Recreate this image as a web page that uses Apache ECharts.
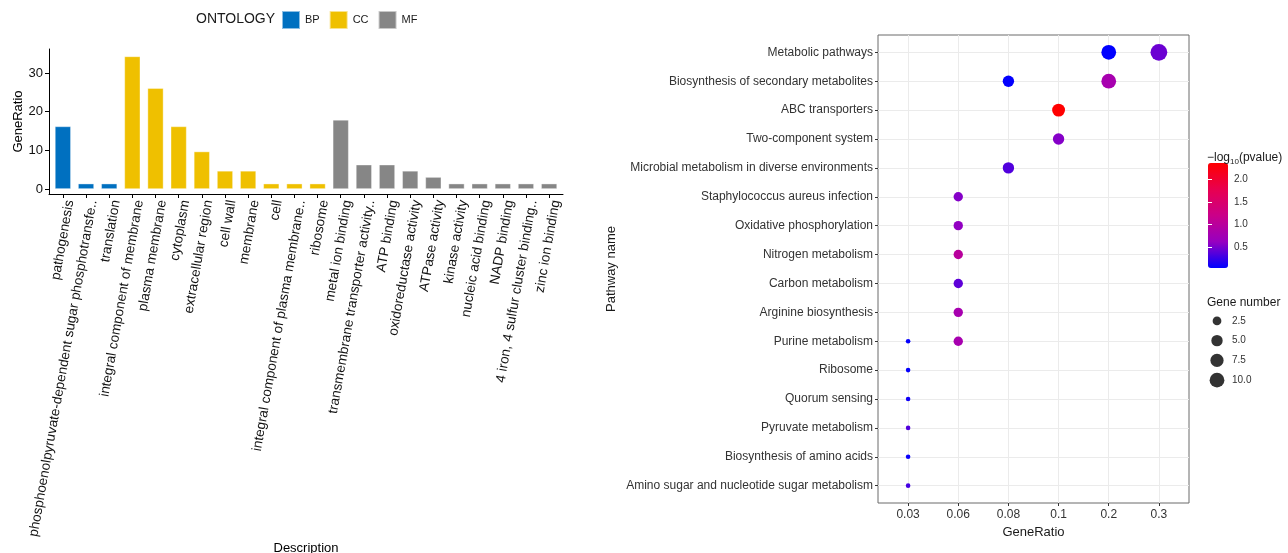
<!DOCTYPE html>
<html>
<head>
<meta charset="utf-8">
<script src="https://cdn.jsdelivr.net/npm/echarts@6/dist/echarts.min.js"></script>
<style>
  html, body { margin: 0; padding: 0; background: #ffffff; }
  #chart { width: 1288px; height: 553px; }
</style>
</head>
<body>
<div id="chart"></div>
<script>
// ---- GO enrichment (bar chart) ----
const goTerms = [
  'pathogenesis',
  'phosphoenolpyruvate-dependent sugar phosphotransfe..',
  'translation',
  'integral component of membrane',
  'plasma membrane',
  'cytoplasm',
  'extracellular region',
  'cell wall',
  'membrane',
  'cell',
  'integral component of plasma membrane..',
  'ribosome',
  'metal ion binding',
  'transmembrane transporter activity..',
  'ATP binding',
  'oxidoreductase activity',
  'ATPase activity',
  'kinase activity',
  'nucleic acid binding',
  'NADP binding',
  '4 iron, 4 sulfur cluster binding..',
  'zinc ion binding'
];
const goOntology = [
  'BP', 'BP', 'BP',
  'CC', 'CC', 'CC', 'CC', 'CC', 'CC', 'CC', 'CC', 'CC',
  'MF', 'MF', 'MF', 'MF', 'MF', 'MF', 'MF', 'MF', 'MF', 'MF'
];
const goRatio = [
  16.2, 1.4, 1.4,
  34.3, 26.1, 16.2, 9.7, 4.7, 4.7, 1.4, 1.4, 1.4,
  17.9, 6.3, 6.3, 4.7, 3.1, 1.4, 1.4, 1.4, 1.4, 1.4
];
const ontologies = ['BP', 'CC', 'MF'];
const goTickValues = [0, 10, 20, 30];

// ---- KEGG enrichment (dot plot) ----
const pathways = [
  'Metabolic pathways',
  'Biosynthesis of secondary metabolites',
  'ABC transporters',
  'Two-component system',
  'Microbial metabolism in diverse environments',
  'Staphylococcus aureus infection',
  'Oxidative phosphorylation',
  'Nitrogen metabolism',
  'Carbon metabolism',
  'Arginine biosynthesis',
  'Purine metabolism',
  'Ribosome',
  'Quorum sensing',
  'Pyruvate metabolism',
  'Biosynthesis of amino acids',
  'Amino sugar and nucleotide sugar metabolism'
];
const ratioLevels = ['0.03', '0.06', '0.08', '0.1', '0.2', '0.3'];

const dotPathway = [
  'Metabolic pathways', 'Metabolic pathways',
  'Biosynthesis of secondary metabolites', 'Biosynthesis of secondary metabolites',
  'ABC transporters',
  'Two-component system',
  'Microbial metabolism in diverse environments',
  'Staphylococcus aureus infection',
  'Oxidative phosphorylation',
  'Nitrogen metabolism',
  'Carbon metabolism',
  'Arginine biosynthesis',
  'Purine metabolism', 'Purine metabolism',
  'Ribosome',
  'Quorum sensing',
  'Pyruvate metabolism',
  'Biosynthesis of amino acids',
  'Amino sugar and nucleotide sugar metabolism'
];
const dotRatio = [
  '0.2', '0.3',
  '0.08', '0.2',
  '0.1',
  '0.1',
  '0.08',
  '0.06',
  '0.06',
  '0.06',
  '0.06',
  '0.06',
  '0.03', '0.06',
  '0.03',
  '0.03',
  '0.03',
  '0.03',
  '0.03'
];
const dotGeneNumber = [10, 14, 5, 10, 7, 5, 5, 3, 3, 3, 3, 3, 1, 3, 1, 1, 1, 1, 1];
const dotLogP = [0.04, 0.45, 0.05, 0.8, 2.36, 0.55, 0.35, 0.55, 0.6, 1.0, 0.4, 0.8, 0.06, 0.8, 0.06, 0.1, 0.35, 0.08, 0.3];

const logPLimits = [0.04, 2.36];
const colorBreaks = [0.5, 1.0, 1.5, 2.0];
const sizeBreaks = [2.5, 5.0, 7.5, 10.0];

// ---- styling ----
const FONT = '"Liberation Sans", Arial, Helvetica, sans-serif';
const ontologyColors = { BP: '#0070C0', CC: '#EFC000', MF: '#868686' };
// blue -> red gradient, sampled in Lab space
const gradientStops = ['#0000FF', '#9700C0', '#CA0089', '#E8004F', '#FF0000'];

// point diameter from gene number (area scale)
function dotSize(n) {
  return 4.6 + 10.7 * Math.sqrt(Math.max(0, n - 1) / 10);
}

const goIdx = goTerms.map((_, i) => i);
const pathIdx = pathways.map((_, i) => i);
const ratioIdx = ratioLevels.map((_, i) => i);

// one bar series per ontology, all sharing the same slot on the axis
const barSeries = ontologies.map(ont => ({
  type: 'bar',
  name: ont,
  xAxisIndex: 0,
  yAxisIndex: 0,
  barWidth: 16,
  barGap: '-100%',
  itemStyle: { color: ontologyColors[ont], borderColor: 'rgba(255,255,255,0.55)', borderWidth: 0.7 },
  data: goTerms.map((t, i) => goOntology[i] === ont ? [i, goRatio[i]] : null).filter(d => d !== null)
}));

const dotData = dotPathway.map((p, i) => [
  ratioLevels.indexOf(dotRatio[i]),
  pathways.indexOf(p),
  dotGeneNumber[i],
  dotLogP[i]
]);

const chart = echarts.init(document.getElementById('chart'), null, { renderer: 'canvas' });

const option = {
  animation: false,
  backgroundColor: '#ffffff',
  textStyle: { fontFamily: FONT },
  title: [
    { text: 'ONTOLOGY', left: 196, top: 12, padding: 0,
      textStyle: { fontSize: 14, fontWeight: 'normal', color: '#1a1a1a', fontFamily: FONT } },
    { text: '\u2212log{sub|10}(pvalue)', left: 1207, top: 150, padding: 0,
      textStyle: { fontSize: 12, fontWeight: 'normal', color: '#1a1a1a', fontFamily: FONT, lineHeight: 16,
        rich: { sub: { fontSize: 8, lineHeight: 16, verticalAlign: 'bottom', fontFamily: FONT, color: '#1a1a1a' } } } },
    { text: 'Gene number', left: 1207, top: 297, padding: 0,
      textStyle: { fontSize: 12, fontWeight: 'normal', color: '#1a1a1a', fontFamily: FONT } }
  ],
  legend: {
    data: ontologies,
    left: 281,
    top: 10,
    padding: 0,
    itemWidth: 18,
    itemHeight: 18,
    itemGap: 9,
    icon: 'rect',
    selectedMode: false,
    textStyle: { fontSize: 11, color: '#1a1a1a', fontFamily: FONT }
  },
  grid: [
    { left: 49, top: 49, width: 514, height: 145, outerBoundsMode: 'none' },
    { left: 878, top: 35, width: 311, height: 468, show: true, borderColor: '#6b6b6b', borderWidth: 1,
      outerBoundsMode: 'none' },
    { left: 1208, top: 163, width: 20, height: 105, outerBoundsMode: 'none' },
    { left: 1207, top: 311, width: 20, height: 79, outerBoundsMode: 'none' }
  ],
  xAxis: [
    {
      gridIndex: 0, type: 'value', min: -0.6, max: goTerms.length - 0.4,
      axisLine: { show: true, onZero: false, lineStyle: { color: '#000', width: 1 } },
      axisTick: { show: true, customValues: goIdx, length: 4, lineStyle: { color: '#000' } },
      axisLabel: { customValues: goIdx, formatter: v => goTerms[Math.round(v)] || '', rotate: 80,
        verticalAlign: 'top', fontSize: 13.6, color: '#111', margin: 5, fontFamily: FONT },
      splitLine: { show: false },
      name: 'Description', nameLocation: 'middle', nameGap: 346,
      nameTextStyle: { fontSize: 13, color: '#000', fontFamily: FONT }
    },
    {
      gridIndex: 1, type: 'value', min: -0.6, max: ratioLevels.length - 0.4,
      axisLine: { show: false, onZero: false },
      axisTick: { show: true, customValues: ratioIdx, length: 3, lineStyle: { color: '#333' } },
      axisLabel: { customValues: ratioIdx, formatter: v => ratioLevels[Math.round(v)] || '',
        fontSize: 12, color: '#333', margin: 6, fontFamily: FONT },
      splitLine: { show: true, lineStyle: { color: '#EBEBEB', width: 1 } },
      name: 'GeneRatio', nameLocation: 'middle', nameGap: 17,
      nameTextStyle: { fontSize: 13, color: '#1a1a1a', fontFamily: FONT }
    },
    { gridIndex: 2, type: 'value', min: 0, max: 1, show: false },
    { gridIndex: 3, type: 'value', min: -1, max: 1, show: false }
  ],
  yAxis: [
    {
      gridIndex: 0, type: 'value', min: -1.29, max: 36.2,
      axisLine: { show: true, onZero: false, lineStyle: { color: '#000', width: 1 } },
      axisTick: { show: true, customValues: goTickValues, length: 4, lineStyle: { color: '#000' } },
      axisLabel: { customValues: goTickValues, fontSize: 13, color: '#111', margin: 6, fontFamily: FONT },
      splitLine: { show: false },
      name: 'GeneRatio', nameLocation: 'middle', nameGap: 24,
      nameTextStyle: { fontSize: 13, color: '#000', fontFamily: FONT }
    },
    {
      gridIndex: 1, type: 'value', inverse: true, min: -0.6, max: pathways.length - 0.4,
      axisLine: { show: false, onZero: false },
      axisTick: { show: true, customValues: pathIdx, length: 3, lineStyle: { color: '#333' } },
      axisLabel: { customValues: pathIdx, formatter: v => pathways[Math.round(v)] || '',
        fontSize: 12, color: '#333', margin: 5, fontFamily: FONT },
      splitLine: { show: true, lineStyle: { color: '#EBEBEB', width: 1 } },
      name: 'Pathway name', nameLocation: 'middle', nameGap: 260,
      nameTextStyle: { fontSize: 13, color: '#1a1a1a', fontFamily: FONT }
    },
    {
      gridIndex: 2, type: 'value', position: 'right', min: logPLimits[0], max: logPLimits[1],
      axisLine: { show: false },
      axisTick: { show: true, inside: true, customValues: colorBreaks, length: 4, lineStyle: { color: '#ffffff', width: 1 } },
      axisLabel: { customValues: colorBreaks, formatter: v => v.toFixed(1), fontSize: 10, color: '#333', margin: 6, fontFamily: FONT },
      splitLine: { show: false },
      z: 10
    },
    {
      gridIndex: 2, type: 'value', position: 'left', min: logPLimits[0], max: logPLimits[1],
      axisLine: { show: false },
      axisTick: { show: true, inside: true, customValues: colorBreaks, length: 4, lineStyle: { color: '#ffffff', width: 1 } },
      axisLabel: { show: false },
      splitLine: { show: false },
      z: 10
    },
    {
      gridIndex: 3, type: 'category', position: 'right', inverse: true,
      data: sizeBreaks.map(v => v.toFixed(1)),
      axisLine: { show: false }, axisTick: { show: false },
      axisLabel: { fontSize: 10, color: '#333', margin: 5, fontFamily: FONT },
      splitLine: { show: false }
    }
  ],
  visualMap: {
    type: 'continuous',
    seriesIndex: 3,
    dimension: 3,
    min: logPLimits[0],
    max: logPLimits[1],
    inRange: { color: gradientStops },
    calculable: false,
    left: 1208,
    top: 163,
    itemWidth: 20,
    itemHeight: 105,
    padding: 0,
    orient: 'vertical'
  },
  series: [
    ...barSeries,
    {
      type: 'scatter',
      xAxisIndex: 1,
      yAxisIndex: 1,
      data: dotData,
      symbol: 'circle',
      symbolSize: d => dotSize(d[2]),
      itemStyle: { opacity: 1 },
      z: 5
    },
    {
      type: 'scatter',
      xAxisIndex: 3,
      yAxisIndex: 4,
      data: sizeBreaks.map(v => [0, v.toFixed(1), v]),
      symbol: 'circle',
      symbolSize: d => dotSize(d[2]),
      itemStyle: { color: '#000000' },
      silent: true
    }
  ]
};

chart.setOption(option);
</script>
</body>
</html>
